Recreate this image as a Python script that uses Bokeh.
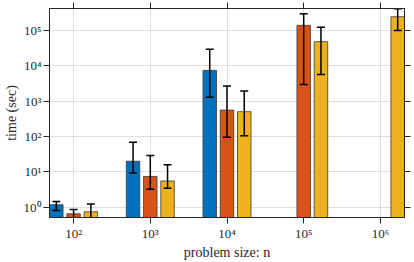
import numpy as np
from bokeh.plotting import figure
from bokeh.models import Range1d, FixedTicker, CustomJSTickFormatter, LinearAxis, LogAxis
from bokeh.embed import file_html
from bokeh.resources import INLINE

# ---- data ----
size_labels = ["10²", "10³", "10⁴", "10⁵", "10⁶"]
y_ticks = [1, 10, 100, 1e3, 1e4, 1e5]

blue_mean = [1.17, 20.0, 7450.0, np.nan, np.nan]
blue_lo = [0.80, 9.2, 1300.0, np.nan, np.nan]
blue_hi = [1.45, 69.0, 29500.0, np.nan, np.nan]

orange_mean = [0.65, 7.4, 560.0, 1.4e5, np.nan]
orange_lo = [0.40, 3.2, 96.0, 2950.0, np.nan]
orange_hi = [0.86, 29.0, 2700.0, 3.0e5, np.nan]

yellow_mean = [0.74, 5.5, 505.0, 48400.0, 2.46e5]
yellow_lo = [0.42, 3.45, 105.0, 5700.0, 1.0e5]
yellow_hi = [1.22, 16.0, 1950.0, 1.24e5, 4.1e5]

series = [
    (blue_mean, blue_lo, blue_hi, "#0072BD", -0.225),
    (orange_mean, orange_lo, orange_hi, "#D95319", 0.0),
    (yellow_mean, yellow_lo, yellow_hi, "#EDB120", 0.225),
]

FONT = "Liberation Serif"
AX = "#262626"

p = figure(frame_width=355, frame_height=209, y_axis_type="log",
           x_range=Range1d(-0.314, 4.314), y_range=Range1d(0.51, 4.2e5),
           output_backend="svg", toolbar_location=None,
           min_border_left=49, min_border_right=10, min_border_top=8,
           min_border_bottom=45)

p.outline_line_color = AX
p.outline_line_width = 1
p.background_fill_color = "white"
p.border_fill_color = "white"

base = np.arange(len(size_labels))
for mean, lo, hi, col, off in series:
    xs = base + off
    p.vbar(x=xs, top=mean, bottom=1e-3, width=0.176, fill_color=col,
           line_color="#3a3a3a", line_width=0.8)
    p.segment(x0=xs, y0=lo, x1=xs, y1=hi, line_color="black", line_width=1.5)
    p.scatter(x=xs, y=lo, marker="dash", size=8, line_color="black", line_width=1.5)
    p.scatter(x=xs, y=hi, marker="dash", size=8, line_color="black", line_width=1.5)

xaxis = p.below[0]
yaxis = p.left[0]

# extra tick-only axes on top and right (box style)
top_ax = LinearAxis(ticker=FixedTicker(ticks=list(base)))
right_ax = LogAxis(ticker=FixedTicker(ticks=y_ticks))
for ax in (top_ax, right_ax):
    ax.major_label_text_font_size = "1px"
    ax.major_label_text_color = None
    ax.major_label_standoff = 0
    ax.axis_line_color = AX
    ax.major_tick_line_color = AX
    ax.major_tick_out = 6
    ax.major_tick_in = 0
    ax.minor_tick_line_color = None
p.add_layout(top_ax, "above")
p.add_layout(right_ax, "right")

# x axis
xaxis.ticker = FixedTicker(ticks=list(base))
xaxis.major_label_overrides = {int(i): s for i, s in enumerate(size_labels)}
xaxis.axis_label = "problem size: n"
p.xgrid.ticker = FixedTicker(ticks=list(base))

# y axis
yaxis.ticker = FixedTicker(ticks=y_ticks)
yaxis.formatter = CustomJSTickFormatter(code="""
const sup = ['⁰','¹','²','³','⁴','⁵','⁶','⁷','⁸','⁹'];
return '10' + sup[Math.round(Math.log10(tick))];
""")
yaxis.axis_label = "time (sec)"
p.ygrid.ticker = FixedTicker(ticks=y_ticks)

for ax in (xaxis, yaxis):
    ax.axis_line_color = AX
    ax.major_tick_line_color = AX
    ax.major_tick_out = 6
    ax.major_tick_in = 0
    ax.minor_tick_line_color = None
    ax.major_label_text_font = FONT
    ax.major_label_text_color = AX
    ax.major_label_text_font_size = "13px"
    ax.major_label_standoff = 2
    ax.axis_label_text_font = FONT
    ax.axis_label_text_font_size = "14px"
    ax.axis_label_text_font_style = "normal"
    ax.axis_label_text_color = AX
xaxis.axis_label_standoff = 1
yaxis.axis_label_standoff = 2

for g in (p.xgrid, p.ygrid):
    g.grid_line_color = "#dedede"
    g.grid_line_width = 1

open("out.html", "w").write(file_html(p, INLINE))
